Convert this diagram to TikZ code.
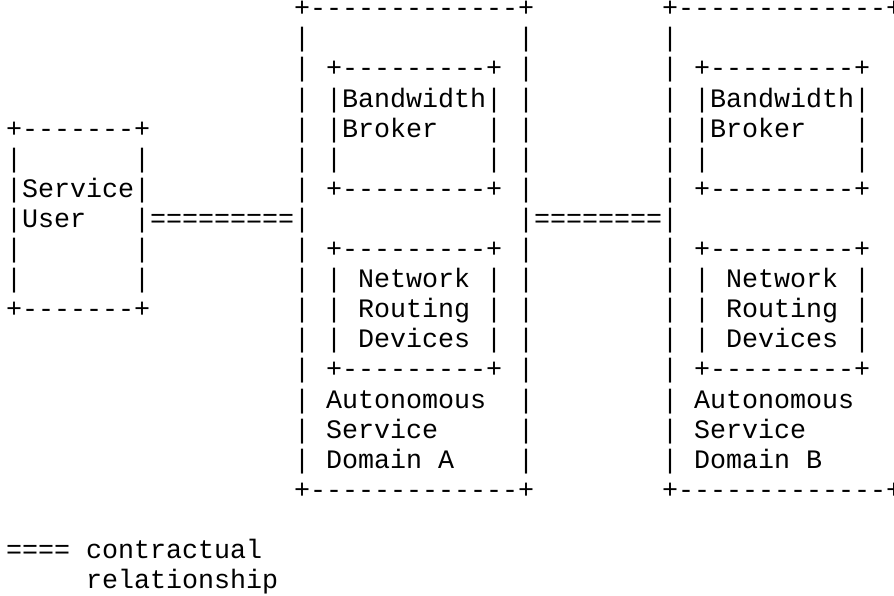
\documentclass[tikz,border=0pt]{standalone}
\usepackage{fontspec}
\setmonofont{Liberation Mono}

\tikzset{ascii/.style={anchor=base west, inner sep=0pt, outer sep=0pt,
  font=\ttfamily\fontsize{26.67}{30.1}\selectfont}}

\begin{document}
\begin{tikzpicture}[x=16pt,y=-30.1pt]
\useasboundingbox (-0.375,-0.555) rectangle (55.5,19.245);
\clip (-0.375,-0.555) rectangle (55.5,19.245);

% service user
\node[ascii] (usr0) at (0,4) {+-------+};
\node[ascii] (usr1) at (0,5) {|~~~~~~~|};
\node[ascii] (usr2) at (0,6) {|Service|};
\node[ascii] (usr3) at (0,7) {|User~~~|};
\node[ascii] (usr4) at (0,8) {|~~~~~~~|};
\node[ascii] (usr5) at (0,9) {|~~~~~~~|};
\node[ascii] (usr6) at (0,10) {+-------+};

% domain A
\node[ascii] (dmA0) at (18,0) {+-------------+};
\node[ascii] (dmA1) at (18,1) {|~~~~~~~~~~~~~|};
\node[ascii] (dmA2) at (18,2) {|~+---------+~|};
\node[ascii] (dmA3) at (18,3) {|~|Bandwidth|~|};
\node[ascii] (dmA4) at (18,4) {|~|Broker~~~|~|};
\node[ascii] (dmA5) at (18,5) {|~|~~~~~~~~~|~|};
\node[ascii] (dmA6) at (18,6) {|~+---------+~|};
\node[ascii] (dmA7) at (18,7) {|~~~~~~~~~~~~~|};
\node[ascii] (dmA8) at (18,8) {|~+---------+~|};
\node[ascii] (dmA9) at (18,9) {|~|~Network~|~|};
\node[ascii] (dmA10) at (18,10) {|~|~Routing~|~|};
\node[ascii] (dmA11) at (18,11) {|~|~Devices~|~|};
\node[ascii] (dmA12) at (18,12) {|~+---------+~|};
\node[ascii] (dmA13) at (18,13) {|~Autonomous~~|};
\node[ascii] (dmA14) at (18,14) {|~Service~~~~~|};
\node[ascii] (dmA15) at (18,15) {|~Domain~A~~~~|};
\node[ascii] (dmA16) at (18,16) {+-------------+};

% domain B (cut at the right edge)
\node[ascii] (dmB0) at (41,0) {+-------------+};
\node[ascii] (dmB1) at (41,1) {|};
\node[ascii] (dmB2) at (41,2) {|~+---------+};
\node[ascii] (dmB3) at (41,3) {|~|Bandwidth|};
\node[ascii] (dmB4) at (41,4) {|~|Broker~~~|};
\node[ascii] (dmB5) at (41,5) {|~|~~~~~~~~~|};
\node[ascii] (dmB6) at (41,6) {|~+---------+};
\node[ascii] (dmB7) at (41,7) {|};
\node[ascii] (dmB8) at (41,8) {|~+---------+};
\node[ascii] (dmB9) at (41,9) {|~|~Network~|};
\node[ascii] (dmB10) at (41,10) {|~|~Routing~|};
\node[ascii] (dmB11) at (41,11) {|~|~Devices~|};
\node[ascii] (dmB12) at (41,12) {|~+---------+};
\node[ascii] (dmB13) at (41,13) {|~Autonomous};
\node[ascii] (dmB14) at (41,14) {|~Service};
\node[ascii] (dmB15) at (41,15) {|~Domain~B};
\node[ascii] (dmB16) at (41,16) {+-------------+};

% contracts
\node[ascii] (lnkA) at (9,7) {=========};
\node[ascii] (lnkB) at (33,7) {========};

% legend
\node[ascii] (key1) at (0,18) {====~contractual};
\node[ascii] (key2) at (5,19) {relationship};
\end{tikzpicture}
\end{document}
